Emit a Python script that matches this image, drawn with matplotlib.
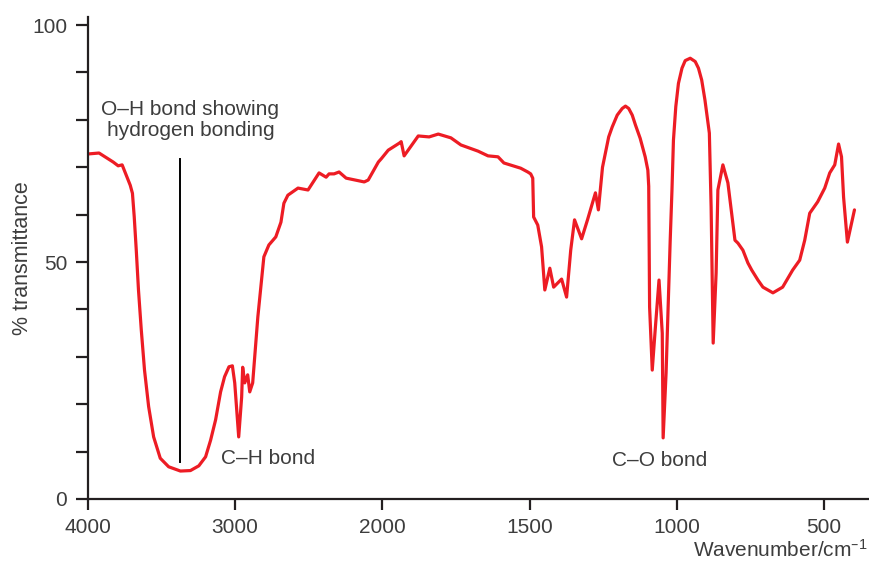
import numpy as np
import matplotlib
matplotlib.use("Agg")
import matplotlib.pyplot as plt

plt.rcParams['font.family'] = ['Liberation Sans', 'DejaVu Sans']
plt.rcParams['mathtext.default'] = 'regular'

# Infrared spectrum of ethanol: wavenumber (cm^-1) and % transmittance
wavenumber = [
    4000, 3925, 3829, 3795, 3768, 3736, 3713, 3698, 3686, 3672, 3657, 3638,
    3616, 3588, 3554, 3509, 3452, 3372, 3304, 3247, 3201, 3167, 3133, 3099,
    3072, 3042, 3019, 3003, 2983, 2976, 2956, 2949, 2935, 2915, 2901, 2881,
    2846, 2805, 2771, 2724, 2689, 2669, 2642, 2573, 2505, 2430, 2382, 2362,
    2328, 2294, 2246, 2123, 2096, 2027, 2007, 1980, 1942, 1936, 1926, 1878,
    1841, 1810, 1767, 1733, 1675, 1641, 1607, 1587, 1530, 1506, 1496, 1489,
    1486, 1472, 1459, 1448, 1431, 1418, 1391, 1374, 1360, 1347, 1323, 1303,
    1276, 1266, 1252, 1231, 1219, 1202, 1185, 1174, 1163, 1151, 1140, 1124,
    1107, 1098, 1095, 1092, 1083, 1073, 1060, 1049, 1046, 1036, 1022, 1016,
    1011, 1003, 994, 982, 971, 954, 937, 926, 915, 904, 895, 889, 883, 876,
    866, 860, 843, 826, 802, 792, 775, 758, 745, 724, 707, 673, 640, 606, 582,
    565, 548, 521, 497, 480, 463, 450, 440, 433, 420, 406, 396,
]
transmittance = [
    72.8, 73.0, 71.1, 70.3, 70.5, 68.0, 66.2, 64.5, 59.6, 52.5, 44.1, 35.7,
    27.2, 19.5, 13.1, 8.6, 6.8, 5.9, 6.0, 7.0, 8.9, 12.4, 16.7, 22.6,
    25.8, 27.9, 28.1, 24.5, 16.0, 13.1, 21.5, 27.8, 24.5, 26.2, 22.6, 24.5,
    38.4, 51.1, 53.6, 55.3, 58.4, 62.4, 64.1, 65.6, 65.2, 68.8, 67.9, 68.6,
    68.6, 69.0, 67.7, 66.9, 67.3, 71.1, 71.8, 73.6, 75.1, 75.4, 72.4, 76.6,
    76.4, 77.0, 76.2, 74.7, 73.4, 72.4, 72.2, 70.9, 69.8, 69.0, 68.6, 67.7,
    59.5, 57.8, 53.2, 44.1, 48.7, 44.7, 46.4, 42.6, 52.5, 58.9, 54.9, 58.9,
    64.6, 61.0, 70.0, 76.4, 78.5, 81.0, 82.4, 82.9, 82.4, 81.0, 78.9, 76.1,
    72.2, 69.4, 66.0, 40.5, 27.2, 35.7, 46.2, 35.0, 12.9, 26.6, 54.6, 65.2,
    75.7, 82.8, 87.7, 90.9, 92.5, 93.0, 92.3, 90.9, 88.4, 84.2, 80.0, 77.2, 61.6, 32.9,
    47.7, 65.2, 70.5, 66.7, 54.6, 54.0, 52.5, 49.8, 48.3, 46.2, 44.7, 43.5, 44.7, 48.3, 50.4,
    54.6, 60.3, 62.7, 65.6, 68.8, 70.5, 74.9, 72.2, 63.7, 54.2, 58.2, 61.0,
]

x_ticks = [4000, 3000, 2000, 1500, 1000, 500]
y_ticks = [0, 50, 100]

# annotation anchor points (wavenumber, % transmittance)
oh_marker_x = 3376
oh_marker_y = [7.8, 71.7]

text_col = '#3d3d3d'
axis_col = '#231f20'
line_col = '#ed1c24'


def fwd(x):
    x = np.asarray(x, dtype=float)
    return np.where(x >= 2000, x, 2 * x - 2000)


def inv(u):
    u = np.asarray(u, dtype=float)
    return np.where(u >= 2000, u, (u + 2000) / 2)


fig = plt.figure(figsize=(8.7, 5.62), dpi=100)
ax = fig.add_axes([88 / 870, 63 / 562, 780 / 870, 482 / 562])
ax.set_xscale('function', functions=(fwd, inv))
ax.set_xlim(4000, 350)
ax.set_ylim(0, 101.7)

ax.plot(wavenumber, transmittance, color=line_col, lw=2.3,
        solid_joinstyle='round', solid_capstyle='round')

ax.plot([oh_marker_x, oh_marker_x], oh_marker_y, color='black', lw=1.4)

for s in ['top', 'right']:
    ax.spines[s].set_visible(False)
for s in ['left', 'bottom']:
    ax.spines[s].set_color(axis_col)
    ax.spines[s].set_linewidth(1.6)

ax.set_xticks(x_ticks)
ax.set_xticklabels([str(v) for v in x_ticks])
ax.set_yticks(y_ticks)
ax.set_yticklabels([str(v) for v in y_ticks])
ax.set_yticks(np.arange(0, 101, 10), minor=True)
ax.xaxis.set_minor_locator(matplotlib.ticker.NullLocator())

ax.tick_params(axis='both', which='both', direction='out', color=axis_col,
               width=1.6, labelsize=15, labelcolor=text_col)
ax.tick_params(axis='y', which='both', length=9, pad=6)
ax.tick_params(axis='x', which='both', length=8, pad=6)

ax.set_ylabel('% transmittance', fontsize=15.5, color=text_col)
ax.yaxis.set_label_coords(-0.071, 0.5)

fig.text(868 / 870, 12 / 562, 'Wavenumber/cm$^{–1}$', ha='right', va='center',
         fontsize=15, color=text_col)

ax.text(3304, 80, 'O–H bond showing\nhydrogen bonding', ha='center',
        va='center', multialignment='center', fontsize=15, color=text_col,
        linespacing=1.15)
ax.text(3099, 8.6, 'C–H bond', ha='left', va='center', fontsize=15,
        color=text_col)
ax.text(1059, 8.2, 'C–O bond', ha='center', va='center', fontsize=15,
        color=text_col)

fig.savefig('out.png', dpi=100)
